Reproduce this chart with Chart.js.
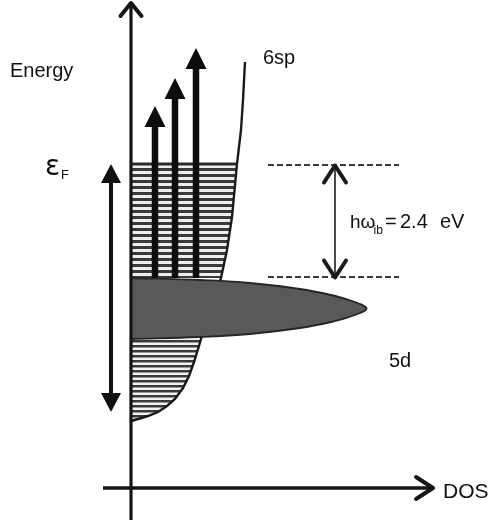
<!DOCTYPE html>
<html>
<head>
<meta charset="utf-8">
<script src="https://cdn.jsdelivr.net/npm/chart.js@4/dist/chart.umd.min.js"></script>
<style>
  html, body { margin: 0; padding: 0; background: #ffffff; }
  #wrap { width: 495px; height: 523px; }
</style>
</head>
<body>
<div id="wrap"><canvas id="dos" width="495" height="523"></canvas></div>
<script>
// Density of states sketch: energy (vertical) against DOS (horizontal), arbitrary units.

// 6sp band: DOS read along the energy axis
const sp6Energy = [67, 69, 72, 76, 82, 89, 100, 112, 126, 142, 149, 158, 178, 196, 210, 238, 271, 324, 358, 388, 426];
const sp6Dos    = [0, 7, 17, 27, 36, 44, 52, 58, 63, 68, 70, 73, 79, 85, 90, 96, 101, 106, 110, 112, 114];

// 5d band outline (upper edge, rounded tip, lower edge)
const d5Energy = [210, 208, 205, 199, 193, 188, 184, 181.5, 179.5, 177.5, 175, 171, 166, 160, 154, 151, 149];
const d5Dos    = [0, 69, 119, 169, 200, 218, 229, 234, 235.5, 234, 229, 218, 200, 169, 119, 69, 0];

// Key energies
const fermiLevel = 324;
const d5Top = 210;
const d5Bottom = 149;

// Interband excitations from the top of the 5d band
const excitationDos = [24, 44, 65];
const excitationTip = [382, 410, 440];

// Gap marker between the 5d top and the Fermi level
const gapDos = 204;
const gapLineDos = [137, 268];
const gapLabel = ['hω', 'ib', '=', '2.4', 'eV'];

// Occupied span arrow beside the energy axis
const spanDos = -20;
const spanEnergy = [76, fermiLevel];

// Axes extents
const energyAxisRange = [-32, 485];
const dosAxisRange = [-28, 302];

function pairs(xs, ys) { return xs.map((x, i) => ({ x: x, y: ys[i] })); }

// Filled region between the energy axis and the 6sp curve, between two energies
function occupied(lo, hi) {
  const pts = [{ x: 0, y: lo }];
  sp6Energy.forEach((e, i) => { if (e >= lo && e <= hi) pts.push({ x: sp6Dos[i], y: e }); });
  pts.push({ x: 0, y: hi });
  return pts;
}

function stripes(period, dark, ink, paper) {
  const c = document.createElement('canvas');
  c.width = 8; c.height = period;
  const g = c.getContext('2d');
  g.fillStyle = paper; g.fillRect(0, 0, 8, period);
  g.fillStyle = ink; g.fillRect(0, 0, 8, dark);
  return g.createPattern(c, 'repeat');
}

const FONT = '"Liberation Sans", Arial, Helvetica, sans-serif';

const overlay = {
  id: 'overlay',
  afterDatasetsDraw(chart) {
    const ctx = chart.ctx;
    const xs = chart.scales.x, ys = chart.scales.y;
    const X = v => xs.getPixelForValue(v);
    const Y = v => ys.getPixelForValue(v);

    function chevron(tx, ty, dx, dy, back, half, width, color) {
      const px = -dy, py = dx;
      ctx.save();
      ctx.strokeStyle = color; ctx.lineWidth = width;
      ctx.lineCap = 'round'; ctx.lineJoin = 'round';
      ctx.beginPath();
      ctx.moveTo(tx - dx * back + px * half, ty - dy * back + py * half);
      ctx.lineTo(tx, ty);
      ctx.lineTo(tx - dx * back - px * half, ty - dy * back - py * half);
      ctx.stroke();
      ctx.restore();
    }
    function line(x1, y1, x2, y2, width, color) {
      ctx.save();
      ctx.strokeStyle = color; ctx.lineWidth = width; ctx.lineCap = 'butt';
      ctx.beginPath(); ctx.moveTo(x1, y1); ctx.lineTo(x2, y2); ctx.stroke();
      ctx.restore();
    }
    function head(tx, ty, dir, len, half, color) {
      // dir: -1 pointing up, +1 pointing down
      ctx.save();
      ctx.fillStyle = color;
      ctx.beginPath();
      ctx.moveTo(tx, ty);
      ctx.lineTo(tx - half, ty - dir * len);
      ctx.lineTo(tx + half, ty - dir * len);
      ctx.closePath(); ctx.fill();
      ctx.restore();
    }

    // Excitation arrows
    excitationDos.forEach((d, i) => {
      const x = X(d), tip = Y(excitationTip[i]), base = Y(d5Top);
      line(x, base, x, tip + 18, 6.5, '#0d0d0d');
      head(x, tip, -1, 21, 10.5, '#0d0d0d');
    });

    // Occupied span double arrow
    const sx = X(spanDos), sTop = Y(spanEnergy[1]), sBot = Y(spanEnergy[0]);
    line(sx, sTop + 15, sx, sBot - 15, 4, '#111');
    head(sx, sTop, -1, 19, 10, '#111');
    head(sx, sBot, 1, 19, 10, '#111');

    // Gap arrow
    const gx = X(gapDos), gTop = Y(fermiLevel) + 1.5, gBot = Y(d5Top) - 0.5;
    line(gx, gTop + 2, gx, gBot - 2, 2, '#4a4a4a');
    chevron(gx, gTop, 0, -1, 17, 11, 4, '#1a1a1a');
    chevron(gx, gBot, 0, 1, 17, 11, 4, '#1a1a1a');

    // Axes
    const ox = X(0), oy = Y(0);
    line(ox, Y(energyAxisRange[0]), ox, Y(energyAxisRange[1]) + 1, 3.2, '#151515');
    chevron(ox, Y(energyAxisRange[1]), 0, -1, 13, 10.5, 4, '#151515');
    line(X(dosAxisRange[0]), oy, X(dosAxisRange[1]) - 1, oy, 3.6, '#151515');
    chevron(X(dosAxisRange[1]), oy, 1, 0, 17, 11, 4, '#151515');

    // Labels
    ctx.save();
    ctx.fillStyle = '#111';
    ctx.textBaseline = 'alphabetic';
    ctx.textAlign = 'left';
    ctx.font = '20px ' + FONT;
    ctx.fillText('Energy', X(-121), Y(411));
    ctx.fillText('6sp', X(132), Y(424));
    ctx.fillText('5d', X(258), Y(121));
    ctx.font = '21px ' + FONT;
    ctx.fillText('DOS', X(312), Y(-10));

    ctx.font = '28px "DejaVu Sans", ' + FONT;
    ctx.fillText('ε', X(-86), Y(313));
    ctx.font = '13px ' + FONT;
    ctx.fillText('F', X(-70), Y(309));

    ctx.font = '19px ' + FONT;
    ctx.fillText(gapLabel[0], X(219), Y(260));
    ctx.font = '12px ' + FONT;
    ctx.fillText(gapLabel[1], X(242.5), Y(254));
    ctx.font = '20px ' + FONT;
    ctx.fillText(gapLabel[2], X(254), Y(260));
    ctx.fillText(gapLabel[3], X(269), Y(260));
    ctx.fillText(gapLabel[4], X(309), Y(260));
    ctx.restore();
  }
};

const canvas = document.getElementById('dos');
const hatchUpper = stripes(6, 3, '#3a3a3a', '#eeeeee');
const hatchLower = stripes(5, 2.5, '#3a3a3a', '#f2f2f2');

new Chart(canvas, {
  type: 'scatter',
  data: {
    datasets: [
      { // 5d band
        data: pairs(d5Dos, d5Energy), showLine: true, fill: 'shape',
        backgroundColor: '#595959', borderColor: '#262626', borderWidth: 1.8,
        tension: 0.4, pointRadius: 0, order: 1
      },
      { // Fermi level edge of the filled 6sp states
        data: [{ x: 0, y: fermiLevel }, { x: sp6Dos[sp6Energy.indexOf(fermiLevel)], y: fermiLevel }],
        showLine: true, borderColor: '#2a2a2a', borderWidth: 3, pointRadius: 0, order: 2
      },
      { // 6sp curve
        data: pairs(sp6Dos, sp6Energy), showLine: true, fill: false,
        borderColor: '#1a1a1a', borderWidth: 2.4, tension: 0, pointRadius: 0, order: 3
      },
      { // occupied 6sp states above the 5d band
        data: occupied(d5Top, fermiLevel), showLine: true, fill: 'shape',
        backgroundColor: hatchUpper, borderWidth: 0, tension: 0, pointRadius: 0, order: 4
      },
      { // occupied 6sp states below the 5d band
        data: occupied(sp6Energy[0], d5Bottom), showLine: true, fill: 'shape',
        backgroundColor: hatchLower, borderWidth: 0, tension: 0, pointRadius: 0, order: 5
      },
      { // dashed level at the Fermi energy
        data: [{ x: gapLineDos[0], y: fermiLevel - 1 }, { x: gapLineDos[1], y: fermiLevel - 1 }],
        showLine: true, borderColor: '#3a3a3a', borderWidth: 2.2, borderDash: [6, 3],
        pointRadius: 0, order: 6
      },
      { // dashed level at the 5d band top
        data: [{ x: gapLineDos[0], y: d5Top + 1 }, { x: gapLineDos[1], y: d5Top + 1 }],
        showLine: true, borderColor: '#3a3a3a', borderWidth: 2.2, borderDash: [6, 3],
        pointRadius: 0, order: 6
      }
    ]
  },
  options: {
    responsive: false,
    devicePixelRatio: 1,
    animation: false,
    layout: { padding: 0 },
    plugins: { legend: { display: false }, tooltip: { enabled: false } },
    scales: {
      x: { type: 'linear', min: -131, max: 364, display: false },
      y: { type: 'linear', min: -35, max: 488, display: false }
    }
  },
  plugins: [overlay]
});
</script>
</body>
</html>
